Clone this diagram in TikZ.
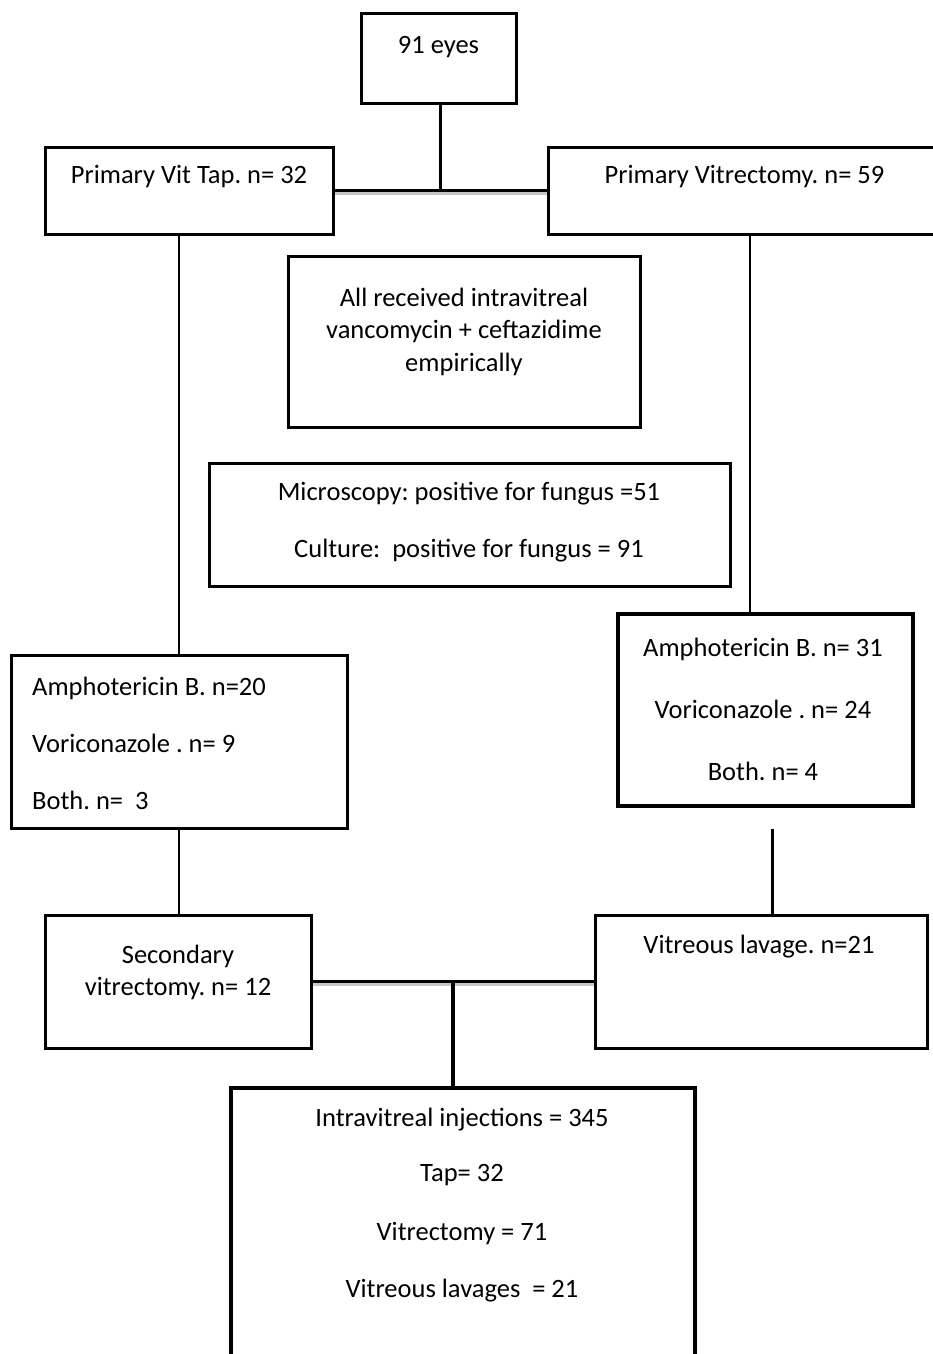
\documentclass[tikz,border=0pt]{standalone}
\usepackage{fontspec}
\setmainfont{Carlito}
\frenchspacing
\usetikzlibrary{positioning,calc}

\begin{document}
\begin{tikzpicture}[
    x=1pt, y=-1pt,
    box/.style={rectangle, draw=black, line width=3pt, inner sep=0pt},
    heavybox/.style={box, line width=4.5pt},
    txt/.style={inner sep=0pt, align=center, font=\fontsize{26.5}{32.5}\selectfont},
    link/.style={line width=2.5pt},
    heavylink/.style={line width=4pt},
    shadowed/.style={preaction={draw=gray!45, line width=3pt, transform canvas={yshift=-3pt}}},
]
\useasboundingbox (0,0) rectangle (933,1354);
\clip (0,0) rectangle (933,1354);

% Layer 1: All eyes
\node[box, minimum width=155, minimum height=89] (eyes) at (438.5,58.5) {};
\node[txt] (eyesT) at (438.5,47) {91 eyes};

% Layer 2: Primary procedure
\node[box, minimum width=288, minimum height=87] (vtap) at (189,190.5) {};
\node[txt] (vtapT) at (189,177) {Primary Vit Tap. n= 32};
\node[box, minimum width=412, minimum height=87] (pvit) at (754,190.5) {};
\node[txt] (pvitT) at (744.5,177) {Primary Vitrectomy. n= 59};

% Common notes
\node[box, minimum width=352, minimum height=171] (recv) at (464,341.5) {};
\node[txt] (recvT) at (464,331.5) {All received intravitreal\\vancomycin + ceftazidime\\empirically};
\node[box, minimum width=521, minimum height=123] (micro) at (469.5,524.5) {};
\node[txt] (microT) at (469,522.5) {Microscopy: positive for fungus =51\\[24.5pt]Culture:\ \ positive for fungus = 91};

% Layer 3: Antifungals
\node[box, minimum width=336, minimum height=173] (amphL) at (179,741.5) {};
\node[txt, align=left, anchor=west] (amphLT) at (32,743) {Amphotericin B. n=20\\[24.5pt]Voriconazole . n= 9\\[24.5pt]Both. n=\ \ 3};
\node[heavybox, minimum width=295, minimum height=192] (amphR) at (765.5,710) {};
\node[txt] (amphRT) at (763,709) {Amphotericin B. n= 31\\[29.5pt]Voriconazole . n= 24\\[29.5pt]Both. n= 4};

% Layer 4: Secondary procedure
\node[box, minimum width=266, minimum height=133] (secv) at (178,981.5) {};
\node[txt] (secvT) at (178,972.5) {Secondary\\vitrectomy. n= 12};
\node[box, minimum width=332, minimum height=133] (lav) at (761,981.5) {};
\node[txt] (lavT) at (759,947) {Vitreous lavage. n=21};

% Layer 5: Injections
\node[heavybox, minimum width=464, minimum height=292] (inj) at (463,1234) {};
\node[txt] (injT) at (462,1205) {Intravitreal injections = 345\\[23pt]Tap= 32\\[26pt]Vitrectomy = 71\\[25pt]Vitreous lavages\ \ = 21};

% Connectors - top split
\coordinate (topJ) at ($(vtap.east)!0.5!(pvit.west)$);
\draw[link, shadowed] (vtap.east) -- (pvit.west);
\draw[link] (eyes.south -| topJ) -- (topJ);

% Connectors - down to antifungals
\draw[link] (vtap.south -| amphL.north) -- (amphL.north);
\coordinate (rdrop) at ($(amphR.north)+(-15.5,0)$);
\draw[link] (rdrop |- pvit.south) -- (rdrop);

% Connectors - down to secondary procedure
\draw[link] (amphL.south) -- (amphL.south |- secv.north);
\coordinate (ldrop) at ($(lav.north)+(11.5,0)$);
\coordinate (rgap) at ($(amphR.south)+(0,21)$);
\draw[link] (rgap -| ldrop) -- (ldrop);

% Connectors - bottom join
\coordinate (botJ) at ($(secv.east)!0.5!(lav.west)$);
\draw[link, shadowed] (secv.east) -- (lav.west);
\draw[heavylink] (botJ) -- (botJ |- inj.north);

\end{tikzpicture}
\end{document}
